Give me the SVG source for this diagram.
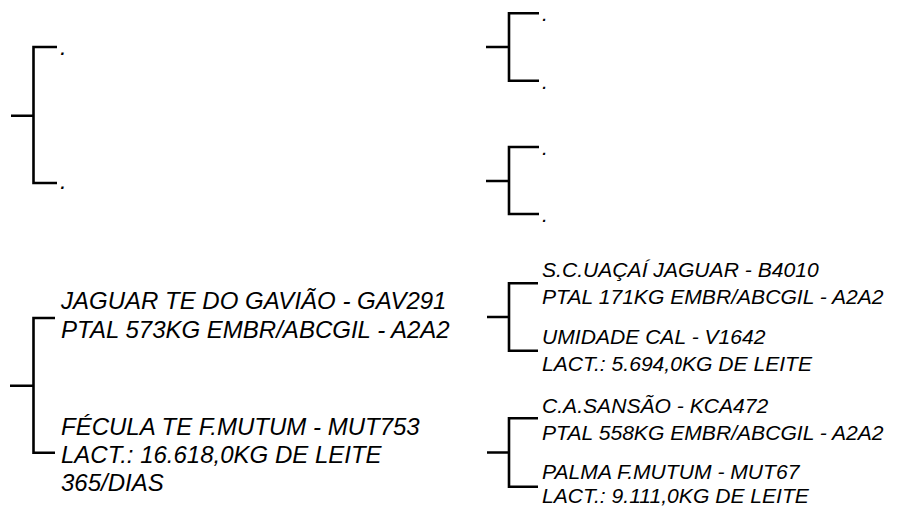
<svg xmlns="http://www.w3.org/2000/svg" width="905" height="508" viewBox="0 0 905 508">
<style>
.c{fill:none;stroke:#000;stroke-width:2.6;stroke-linecap:butt;stroke-linejoin:miter}
.tl{font-family:"Liberation Sans",Arial,sans-serif;font-style:italic;font-size:24px;fill:#000}
.tr{font-family:"Liberation Sans",Arial,sans-serif;font-style:italic;font-size:21.1px;fill:#000}
</style>
<rect width="905" height="508" fill="#fff"/>
<g id="connectors">
<path class="c" d="M11 115.7H33.5M57 47H33.5V183H57"/>
<path class="c" d="M486 47H509M539 13.3H509V80.7H539"/>
<path class="c" d="M486 181H509M539 147H509V214H539"/>
<path class="c" d="M10 385.7H33.5M55 318H33.5V452.7H55"/>
<path class="c" d="M487 317H509M538 283.3H509V350.7H538"/>
<path class="c" d="M487 452.5H509M538 418.3H509V486.7H538"/>
</g>
<g id="n1"><text class="tl" x="60" y="55">.</text></g>
<g id="n2"><text class="tl" x="60" y="189">.</text></g>
<g id="n3"><text class="tr" x="542" y="21">.</text></g>
<g id="n4"><text class="tr" x="542" y="89">.</text></g>
<g id="n5"><text class="tr" x="542" y="155">.</text></g>
<g id="n6"><text class="tr" x="542" y="222">.</text></g>
<g id="n7"><text class="tl" x="61" y="309">JAGUAR TE DO GAVIÃO - GAV291</text><text class="tl" x="61" y="338">PTAL 573KG EMBR/ABCGIL - A2A2</text></g>
<g id="n8"><text class="tl" x="61" y="435">FÉCULA TE F.MUTUM - MUT753</text><text class="tl" x="61" y="463">LACT.: 16.618,0KG DE LEITE</text><text class="tl" x="61" y="491">365/DIAS</text></g>
<g id="n9"><text class="tr" x="542" y="277">S.C.UAÇAÍ JAGUAR - B4010</text><text class="tr" x="542" y="304">PTAL 171KG EMBR/ABCGIL - A2A2</text></g>
<g id="n10"><text class="tr" x="542" y="344">UMIDADE CAL - V1642</text><text class="tr" x="542" y="371">LACT.: 5.694,0KG DE LEITE</text></g>
<g id="n11"><text class="tr" x="542" y="413">C.A.SANSÃO - KCA472</text><text class="tr" x="542" y="440">PTAL 558KG EMBR/ABCGIL - A2A2</text></g>
<g id="n12"><text class="tr" x="542" y="479">PALMA F.MUTUM - MUT67</text><text class="tr" x="542" y="503">LACT.: 9.111,0KG DE LEITE</text></g>
</svg>
